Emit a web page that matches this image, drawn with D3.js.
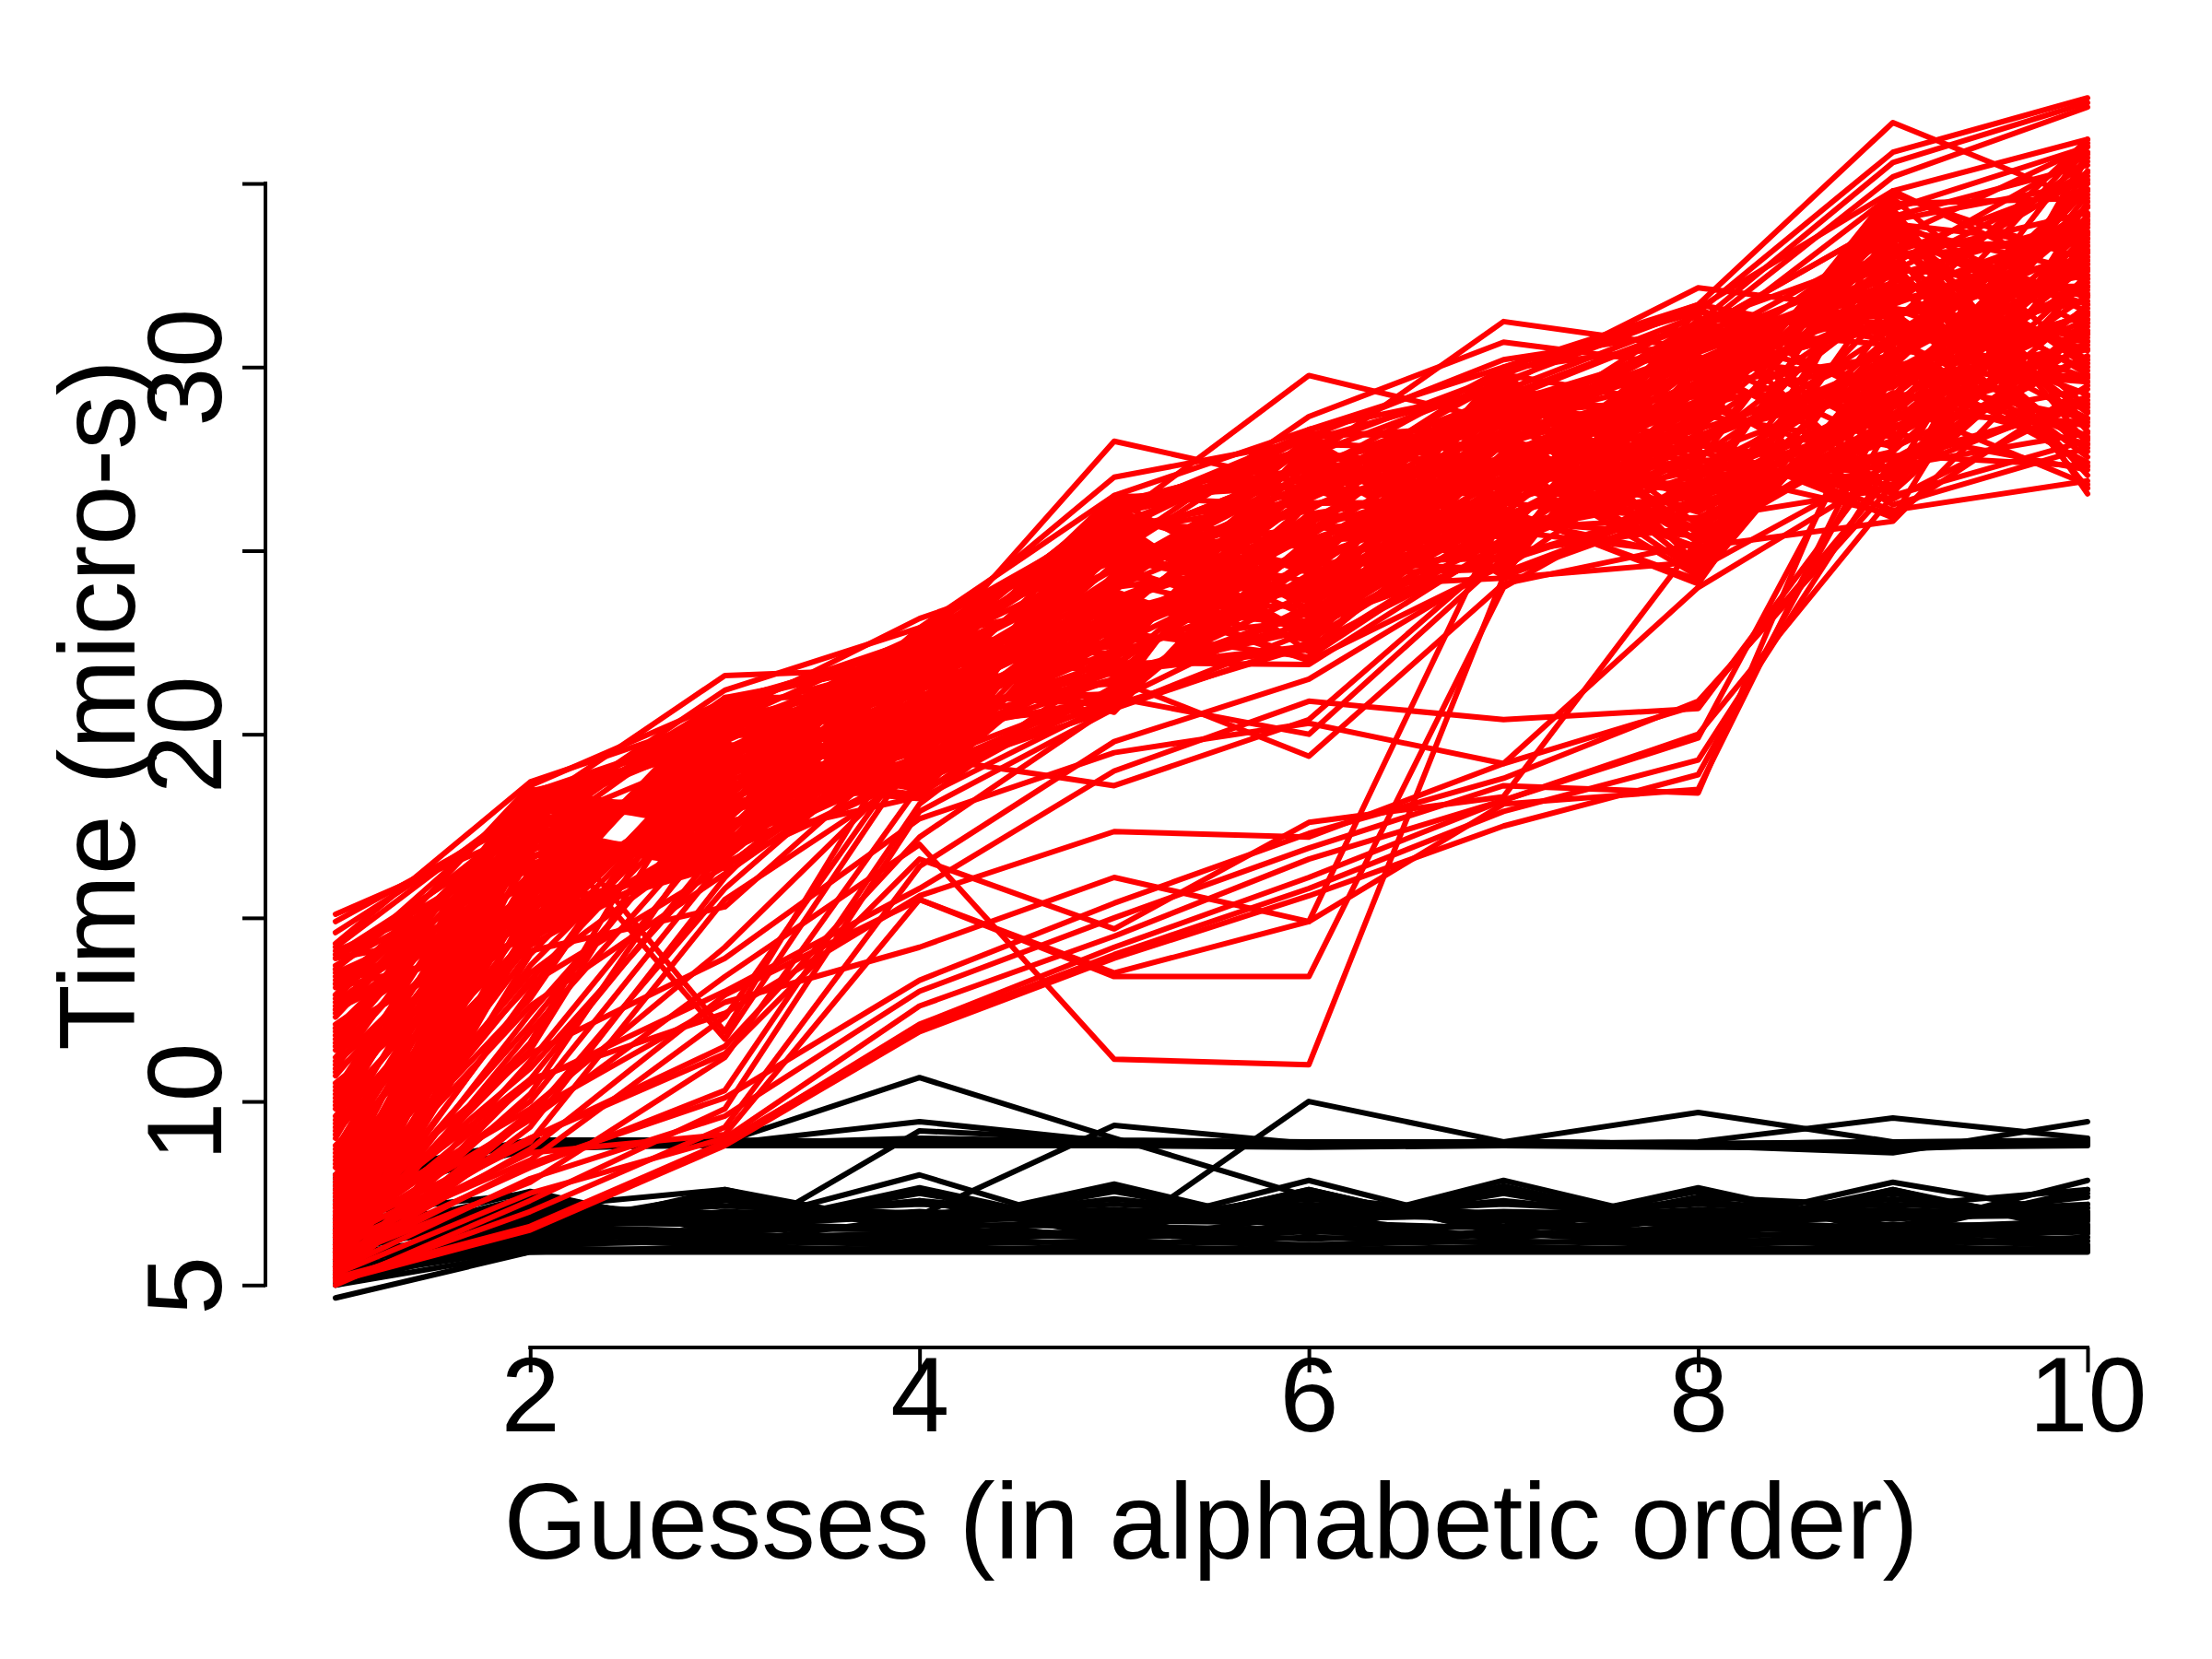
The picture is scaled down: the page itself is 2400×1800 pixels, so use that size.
<!DOCTYPE html>
<html><head><meta charset="utf-8">
<script src="https://cdn.jsdelivr.net/npm/d3@7"></script>
<style>html,body{margin:0;padding:0;background:#fff;} svg{display:block;}</style>
</head><body>
<svg id="chart" width="2400" height="1800"></svg>
<script>
// ---------------- data ----------------
const guesses = [1,2,3,4,5,6,7,8,9,10];
const xTickValues = [2,4,6,8,10];
const yTickValues = [5,10,15,20,25,30,35];
const yTickLabels = ["5","10","","20","","30",""];
const xLabel = "Guesses (in alphabetic order)";
const yLabel = "Time (micro-s)";

// black series: fast band, upper band and a few outliers
const blackSeries = [
[5.0,5.9,5.9,5.9,5.9,5.9,5.9,5.9,5.9,5.9],
[5.2,6.0,5.95,6.0,5.95,6.0,5.95,6.0,5.95,6.0],
[4.65,5.9,6.05,5.95,6.05,5.95,6.05,5.95,6.05,5.95],
[5.3,6.1,6.2,6.1,6.2,6.1,6.2,6.1,6.2,6.1],
[5.45,6.25,6.1,6.3,6.1,6.3,6.15,6.25,6.1,6.3],
[5.6,6.35,6.3,6.4,6.3,6.45,6.35,6.4,6.3,6.45],
[5.1,6.5,6.4,6.2,6.5,6.25,6.45,6.3,6.5,6.2],
[5.35,6.2,6.55,6.5,6.4,6.6,6.3,6.6,6.4,6.55],
[5.8,6.6,6.45,6.65,6.6,6.5,6.6,6.45,6.65,6.6],
[5.55,6.7,6.65,6.55,6.75,6.7,6.55,6.75,6.55,6.75],
[6.0,6.8,6.9,6.75,6.85,6.8,6.9,6.7,6.85,6.9],
[5.9,6.95,6.7,7.0,6.7,7.0,6.75,6.95,6.8,7.0],
[6.2,7.05,6.85,6.9,7.05,6.85,7.0,6.9,7.05,6.85],
[5.7,6.45,7.0,6.8,6.9,7.1,6.8,7.05,6.9,7.1],
[6.3,7.55,6.4,7.6,6.4,7.6,6.4,7.6,6.4,7.6],
[6.4,6.4,7.6,6.4,7.7,6.4,7.6,6.4,7.6,6.4],
[6.1,7.4,6.6,7.5,6.6,7.5,6.6,7.55,6.6,7.5],
[6.5,6.6,7.5,6.6,7.55,6.6,7.5,6.6,7.5,6.65],
[5.9,7.3,6.8,7.3,6.8,7.35,6.8,7.3,6.8,7.4],
[6.6,6.8,7.3,6.75,7.35,6.8,7.3,6.75,7.35,6.8],
[5.4,7.15,6.95,7.2,6.95,7.2,6.9,7.2,6.95,7.2],
[6.7,6.9,7.15,6.95,7.2,6.95,7.2,6.95,7.2,6.95],
[5.0,6.3,7.4,6.5,7.6,6.5,7.7,6.5,7.6,6.5],
[6.8,7.1,7.6,6.6,7.75,6.5,7.85,6.6,7.8,6.9],
[6.9,7.5,6.5,7.65,6.5,7.85,6.5,7.65,6.5,7.85],
[5.2,6.9,6.6,8.0,6.4,7.6,6.4,7.4,7.15,7.6],
[5.25,6.05,6.35,6.15,6.45,6.05,6.4,6.15,6.35,6.05],
[5.65,6.55,6.15,6.85,6.2,6.9,6.25,6.85,6.2,6.8],
[7.8,8.9,8.9,8.85,8.85,8.8,8.85,8.8,8.8,8.85],
[7.6,8.95,8.95,8.9,8.9,8.85,8.9,8.85,8.85,8.9],
[8.0,8.85,8.8,8.8,8.8,8.75,8.8,8.75,8.75,8.8],
[7.4,8.7,8.85,9.0,8.9,8.8,8.9,8.8,8.7,8.9],
[7.9,8.95,8.9,10.65,9.0,7.4,6.9,6.6,6.5,6.6],
[6.2,6.8,6.1,9.2,8.95,8.9,8.9,8.85,8.9,8.85],
[6.5,7.0,6.6,6.9,9.35,8.85,8.9,8.85,8.85,8.9],
[6.0,7.1,6.7,7.3,6.3,10.0,8.9,8.85,8.9,8.85],
[7.7,8.9,8.85,8.9,8.85,8.85,8.9,9.7,8.9,8.95],
[7.2,8.8,8.85,9.45,8.9,8.9,8.85,8.9,9.55,9.0],
[7.3,8.75,8.8,8.85,8.9,8.85,8.85,8.8,8.6,9.45]
];

// red series: main rising band (first group)
const redBand = [
[14.2,18.2,20.4,21.6,26.2,27.2,28.1,31.5,30.9,34.0],
[14.0,17.4,18.9,21.2,23.7,25.7,24.7,29.4,33.4,28.9],
[13.7,16.7,17.3,20.9,21.1,24.3,27.2,27.3,26.8,33.5],
[13.5,15.9,20.5,20.5,24.6,22.8,29.7,25.2,29.3,28.4],
[13.3,15.2,19.0,20.2,22.0,27.8,26.4,30.7,31.8,33.0],
[13.1,14.4,17.5,19.8,25.5,26.4,28.8,28.6,34.3,27.9],
[12.8,18.0,20.6,19.5,22.9,24.9,25.5,26.5,27.7,32.5],
[12.6,17.2,19.1,19.1,26.4,23.4,28.0,24.4,30.2,27.4],
[12.4,16.4,17.6,18.8,23.8,22.0,24.6,30.0,32.7,32.1],
[12.1,15.7,20.8,18.4,21.3,27.0,27.1,27.9,26.1,26.9],
[11.9,14.9,19.2,22.8,24.7,25.5,29.6,25.7,28.6,31.6],
[11.7,18.5,17.7,22.4,22.2,24.1,26.2,31.3,31.2,36.2],
[11.5,17.7,20.9,22.1,25.6,22.6,28.7,29.2,33.7,31.1],
[11.2,17.0,19.3,21.7,23.1,27.6,25.3,27.1,27.0,35.7],
[11.0,16.2,17.8,21.4,26.5,26.2,27.8,25.0,29.6,30.6],
[10.8,15.5,21.0,21.0,24.0,24.7,24.5,30.5,32.1,35.2],
[10.5,14.7,19.5,20.7,21.4,23.3,26.9,28.4,34.6,30.1],
[10.3,18.3,17.9,20.3,24.9,28.3,29.4,26.3,28.0,34.7],
[10.1,17.5,16.4,20.0,22.3,26.8,26.1,24.2,30.5,29.6],
[9.9,16.8,19.6,19.6,25.8,25.4,28.5,29.8,33.0,34.2],
[9.6,16.0,18.1,19.2,23.2,23.9,25.2,27.7,26.4,29.1],
[9.4,15.3,16.5,18.9,20.7,22.5,27.7,25.6,28.9,33.8],
[9.2,14.5,19.7,18.5,24.1,27.5,24.3,31.1,31.4,28.6],
[9.0,18.1,18.2,22.9,21.6,26.0,26.8,29.0,33.9,33.3],
[8.7,17.3,16.6,22.5,25.0,24.6,29.3,26.9,27.3,28.2],
[8.5,16.6,19.8,22.2,22.5,23.1,25.9,24.8,29.8,32.8],
[8.3,15.8,18.3,21.8,25.9,28.1,28.4,30.4,32.3,27.7],
[8.0,15.0,16.8,21.5,23.4,26.7,25.0,28.2,34.8,32.3],
[7.8,14.3,19.9,21.1,20.8,25.2,27.5,26.1,28.2,27.2],
[7.6,17.9,18.4,20.8,24.3,23.8,30.0,31.7,30.7,31.8],
[7.4,17.1,16.9,20.4,21.7,22.3,26.6,29.6,33.2,26.7],
[7.1,16.3,20.1,20.1,25.2,27.3,29.1,27.5,26.6,31.3],
[6.9,15.6,18.5,19.7,22.6,25.9,25.8,25.4,29.1,36.0],
[6.7,14.8,17.0,19.4,26.1,24.4,28.2,30.9,31.6,30.8],
[6.4,18.4,20.2,19.0,23.5,23.0,24.9,28.8,34.1,35.5],
[6.2,17.6,18.6,18.7,21.0,28.0,27.4,26.7,27.5,30.3],
[6.0,16.9,17.1,18.3,24.4,26.5,29.9,24.6,30.0,35.0],
[5.8,16.1,20.3,22.7,21.9,25.1,26.5,30.2,32.5,29.9],
[5.5,15.4,18.8,22.3,25.3,23.6,29.0,28.0,25.9,34.5],
[5.3,14.6,17.2,22.0,22.8,22.1,25.6,25.9,28.4,29.4]
];

// red series: main rising band (second group)
const redBand2 = [
[14.1,16.3,17.3,22.5,22.7,25.95,26.0,30.05,27.15,30.7],
[13.9,14.9,16.45,19.05,22.25,27.4,24.4,26.4,34.25,26.55],
[13.6,17.8,20.35,20.35,21.8,22.4,28.6,30.45,32.2,32.2],
[13.4,16.4,19.55,21.65,21.35,23.85,27.0,26.8,30.15,28.05],
[13.2,15.0,18.7,18.25,20.9,25.3,25.4,30.85,28.05,33.65],
[12.9,17.9,17.85,19.55,26.45,26.75,29.65,27.2,26.0,29.5],
[12.7,16.5,17.05,20.85,26.0,28.2,28.05,31.2,33.1,35.1],
[12.5,15.1,20.95,22.15,25.55,23.2,26.4,27.55,31.05,30.95],
[12.3,18.0,20.1,18.7,25.1,24.65,24.8,31.6,29.0,26.8],
[12.0,16.6,19.3,20.0,24.65,26.1,29.05,27.95,26.95,32.4],
[11.8,15.2,18.45,21.3,24.2,27.55,27.45,24.3,34.0,28.25],
[11.6,18.12,17.65,22.6,23.75,22.55,25.85,28.35,31.95,33.9],
[11.4,16.7,16.8,19.2,23.3,24.0,24.25,24.7,29.9,29.75],
[11.1,15.3,20.7,20.5,22.85,25.45,28.45,28.7,27.85,35.35],
[10.9,18.23,19.9,21.8,22.4,26.9,26.85,25.1,25.8,31.2],
[10.7,16.85,19.05,18.35,21.95,21.9,25.25,29.1,32.85,27.05],
[10.4,15.4,18.25,19.65,21.5,23.35,29.5,25.45,30.8,32.65],
[10.2,18.35,17.4,20.95,21.05,24.8,27.9,29.5,28.75,28.5],
[10.0,16.95,16.6,22.25,20.6,26.3,26.3,25.85,26.7,34.15],
[9.8,15.55,20.45,18.85,26.15,27.75,24.65,29.9,33.75,30.0],
[9.5,18.45,19.65,20.15,25.7,22.7,28.9,26.25,31.7,35.6],
[9.3,17.05,18.8,21.45,25.25,24.15,27.3,30.25,29.65,31.45],
[9.1,15.65,18.0,22.7,24.8,25.65,25.7,26.6,27.6,27.3],
[8.8,14.25,17.15,19.3,24.35,27.1,29.95,30.65,34.7,32.9],
[8.6,17.15,16.35,20.6,23.9,22.05,28.3,27.0,32.65,28.75],
[8.4,15.75,20.25,21.9,23.45,23.5,26.7,31.05,30.6,34.35],
[8.2,14.35,19.4,18.5,23.0,25.0,25.1,27.4,28.55,30.2],
[7.9,17.25,18.6,19.75,22.55,26.45,29.35,31.4,26.5,35.85],
[7.7,15.85,17.75,21.05,22.1,27.9,27.75,27.75,33.55,31.7],
[7.5,14.45,16.95,22.35,21.65,22.85,26.15,24.1,31.5,27.55],
[7.2,17.35,20.8,18.95,21.2,24.35,24.5,28.15,29.45,33.15],
[7.0,15.95,20.0,20.25,20.75,25.8,28.75,24.5,27.4,29.0],
[6.8,14.55,19.15,21.55,26.3,27.25,27.15,28.55,34.45,34.6],
[6.6,17.5,18.35,22.85,25.85,22.25,25.55,24.9,32.4,30.45],
[6.3,16.05,17.5,19.4,25.4,23.7,29.8,28.9,30.35,36.1],
[6.1,14.65,16.7,20.7,24.95,25.15,28.2,25.25,28.3,31.95],
[5.9,17.6,20.6,22.0,24.5,26.6,26.55,29.3,26.25,27.8],
[5.7,16.2,19.75,18.6,24.05,28.05,24.95,25.65,33.3,33.4],
[5.4,14.8,18.95,19.9,23.6,23.05,29.2,29.7,31.25,29.25],
[5.2,17.7,18.1,21.2,23.15,24.5,27.6,26.05,29.2,34.85]
];

// red series: upper edge / peaks
const redTop = [
[15.1,17.4,19.6,22.0,27.98,26.8,29.0,30.6,33.5,36.0],
[14.9,17.8,20.0,22.5,25.8,29.77,28.5,31.0,34.0,35.0],
[14.6,18.0,21.6,21.8,24.5,27.5,31.24,30.5,32.5,34.0],
[14.3,18.7,20.5,23.15,25.0,28.65,30.68,30.0,33.0,33.5],
[13.9,17.0,20.8,22.6,27.0,28.0,29.5,32.16,31.5,32.5],
[13.6,18.3,20.2,22.2,26.2,27.8,29.8,31.7,36.66,34.5],
[13.2,17.6,21.2,22.9,26.5,28.3,30.0,31.5,35.85,37.33],
[12.9,18.6,20.9,22.4,26.0,27.2,29.2,31.2,35.57,37.2],
[12.5,18.1,19.8,22.7,25.5,28.1,30.2,31.0,35.18,37.08],
[12.0,17.2,21.0,22.0,26.3,27.6,29.6,31.6,34.8,36.2]
];

// red series: early fan (low start, join band at guess 3-4)
const redFan = [
[5.4,14.0,19.4,22.0,25.4,27.0,28.9,30.1,32.6,35.3],
[5.7,13.0,20.3,21.3,24.1,26.9,27.3,29.3,31.7,33.6],
[6.1,12.1,18.7,20.6,23.0,25.7,29.2,28.7,33.5,31.9],
[5.2,11.1,17.6,22.2,24.8,23.7,26.0,30.8,29.5,34.4],
[6.4,10.9,16.8,19.3,25.6,26.6,28.6,27.0,30.4,32.9],
[5.5,10.2,18.0,21.9,22.4,25.0,27.6,29.9,31.1,30.7],
[6.9,12.6,16.2,19.9,23.9,27.9,25.4,28.5,32.9,29.8],
[5.9,11.6,20.7,22.6,26.0,24.5,29.5,26.8,28.7,33.1],
[7.3,13.5,17.4,20.3,21.8,26.3,26.3,31.0,34.0,31.5],
[6.6,18.3,11.9,20.6,23.6,25.3,27.0,28.1,30.6,33.9],
[7.0,17.8,11.7,19.6,22.7,24.9,28.3,30.3,27.8,35.1],
[5.3,9.3,16.1,21.4,24.5,27.1,26.7,29.1,32.2,28.8],
[6.2,8.9,15.5,19.0,20.9,23.5,27.9,27.8,31.9,32.0],
[5.8,8.2,10.3,18.1,22.1,24.2,26.4,29.5,30.3,34.8],
[5.0,7.3,9.8,17.9,20.7,22.8,25.7,28.9,33.3,30.2],
[6.0,8.6,9.1,15.5,13.5,14.9,26.0,27.2,29.9,32.7],
[5.6,12.4,18.4,21.7,24.0,26.2,28.0,29.8,31.3,34.0],
[6.0,11.4,19.9,20.8,23.3,24.8,26.6,28.3,30.0,31.4],
[5.3,10.6,17.1,19.9,25.2,27.3,28.8,30.7,32.8,35.8],
[6.5,13.7,19.0,22.3,22.9,25.6,27.2,26.6,29.3,27.9],
[5.9,12.9,20.1,21.6,24.9,23.9,25.9,28.6,33.8,32.6],
[6.3,10.0,16.6,20.9,23.5,26.4,29.1,31.2,28.1,30.9],
[5.5,11.9,17.9,19.2,21.2,24.6,27.4,29.6,32.0,33.7],
[6.8,13.3,18.9,22.1,25.7,27.7,26.9,25.6,30.8,28.1],
[5.2,9.6,15.8,20.4,22.6,25.4,28.5,27.4,34.3,36.0],
[7.2,12.8,20.5,18.9,24.2,22.9,25.3,29.0,27.2,31.0],
[6.1,8.4,12.3,19.8,21.7,23.0,26.3,28.0,30.2,33.0],
[5.7,7.8,11.2,18.6,23.2,24.0,27.0,30.0,31.6,29.7],
[6.4,9.0,11.5,17.2,20.8,22.4,25.1,27.6,29.6,34.1],
[5.1,7.0,9.3,16.4,19.8,21.5,24.7,26.4,28.9,31.3]
];

// red series: late jumpers (stay low for several guesses)
const redLate = [
[5.1,6.5,8.8,11.9,13.9,15.6,17.5,18.9,28.6,30.5],
[5.2,6.6,8.9,12.0,14.0,15.8,17.9,19.3,27.5,29.0],
[5.15,6.55,8.85,12.1,14.2,16.1,18.2,19.9,29.8,32.2],
[5.3,7.5,9.0,12.6,14.5,16.6,18.2,20.0,26.5,28.0],
[5.4,7.9,9.6,13.0,15.0,16.9,18.6,18.4,30.8,27.3],
[5.6,8.3,10.1,13.3,15.4,17.3,18.8,20.9,26.8,31.2],
[5.7,8.7,12.9,15.5,13.4,13.4,24.0,27.0,29.0,32.4],
[6.3,9.5,13.4,17.0,11.15,11.0,24.3,26.2,28.3,30.9],
[5.9,9.0,11.3,16.6,14.7,17.6,18.3,25.3,28.5,32.8],
[6.5,10.6,12.4,15.6,17.35,17.2,19.2,24.0,27.2,31.7],
[6.7,9.8,14.2,19.4,18.6,20.4,25.0,28.0,30.0,29.6],
[7.1,14.1,15.3,20.0,21.0,20.0,24.8,26.3,30.9,33.3],
[7.5,13.2,16.4,20.2,21.5,19.4,24.1,25.2,29.7,28.6],
[6.1,10.5,13.0,15.8,19.0,20.9,20.4,20.7,27.8,30.3],
[5.5,9.7,12.7,14.2,16.1,14.9,18.1,18.5,29.2,33.2],
[6.8,11.3,13.9,17.7,19.5,20.3,19.2,20.8,27.1,29.2]
];

const redSeries = redBand.concat(redBand2, redTop, redFan, redLate);

// ---------------- drawing ----------------
const W = 2400, H = 1800;
const FONT = "'Liberation Sans', Arial, Helvetica, sans-serif";
const FS = 115;
const svg = d3.select("#chart");
svg.append("rect").attr("width", W).attr("height", H).attr("fill", "#fff");

const x = d3.scaleLinear().domain([0.64, 10.36]).range([288, 2341]);
const y = d3.scaleLinear().domain([3.30, 38.29]).range([1462, 68]);

const line = d3.line()
  .x((d, i) => x(guesses[i]))
  .y(d => y(d));

const series = svg.append("g").attr("fill", "none")
  .attr("stroke-width", 6).attr("stroke-linejoin", "round").attr("stroke-linecap", "round");

series.selectAll("path.black").data(blackSeries).join("path")
  .attr("class", "black").attr("stroke", "#000").attr("d", line);
series.selectAll("path.red").data(redSeries).join("path")
  .attr("class", "red").attr("stroke", "#ff0000").attr("d", line);

// y axis
const yAxis = d3.axisLeft(y).tickValues(yTickValues).tickSize(25).tickSizeOuter(0)
  .tickFormat((d, i) => yTickLabels[i]);
const gy = svg.append("g").attr("transform", "translate(288,0)").call(yAxis);
gy.select(".domain").remove();
gy.append("line").attr("x1", 0).attr("x2", 0)
  .attr("y1", y(yTickValues[0])).attr("y2", y(yTickValues[yTickValues.length - 1]))
  .attr("stroke", "#000").attr("stroke-width", 4).attr("stroke-linecap", "square");
gy.selectAll(".tick line").attr("stroke", "#000").attr("stroke-width", 4);
gy.selectAll(".tick text")
  .attr("x", null).attr("dy", null).attr("text-anchor", "middle")
  .attr("transform", "translate(-48,0) rotate(-90)")
  .attr("fill", "#000").style("font-family", FONT).style("font-size", FS + "px");

// x axis
const xAxis = d3.axisBottom(x).tickValues(xTickValues).tickSize(27).tickSizeOuter(0)
  .tickFormat(d3.format("d"));
const gx = svg.append("g").attr("transform", "translate(0,1462)").call(xAxis);
gx.select(".domain").remove();
gx.append("line").attr("y1", 0).attr("y2", 0)
  .attr("x1", x(xTickValues[0])).attr("x2", x(xTickValues[xTickValues.length - 1]))
  .attr("stroke", "#000").attr("stroke-width", 4).attr("stroke-linecap", "square");
gx.selectAll(".tick line").attr("stroke", "#000").attr("stroke-width", 4);
gx.selectAll(".tick text")
  .attr("y", 91).attr("dy", null).attr("text-anchor", "middle")
  .attr("fill", "#000").style("font-family", FONT).style("font-size", FS + "px");

// axis titles
svg.append("text").attr("x", 1314).attr("y", 1691).attr("text-anchor", "middle")
  .style("font-family", FONT).style("font-size", "117px").attr("fill", "#000").text(xLabel);
svg.append("text").attr("transform", "translate(146,765) rotate(-90)").attr("text-anchor", "middle")
  .style("font-family", FONT).style("font-size", "117px").attr("fill", "#000").text(yLabel);
</script>
</body></html>
